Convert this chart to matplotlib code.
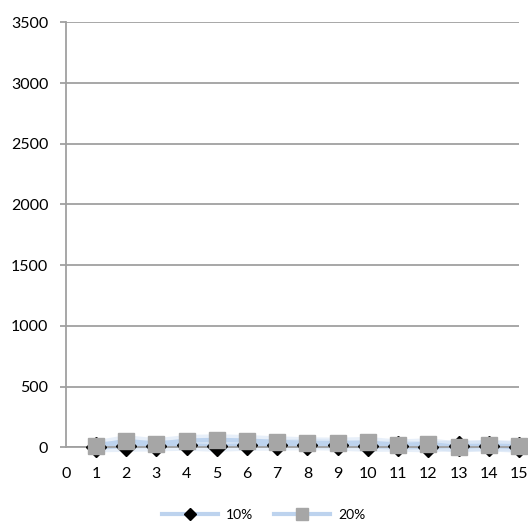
import matplotlib
matplotlib.use("Agg")
import matplotlib.pyplot as plt
from matplotlib.lines import Line2D

# values
x_vals = list(range(1, 16))
pct10 = [4, 8, 12, 17, 8, 17, 18, 22, 17, 8, 9, 4, 12, 12, 0]
pct20 = [12, 54, 29, 56, 62, 56, 45, 37, 34, 40, 19, 29, 2, 15, 9]
series_names = ["10%", "20%"]
y_ticks = [0, 500, 1000, 1500, 2000, 2500, 3000, 3500]
x_ticks = list(range(0, 16))

plt.rcParams['font.family'] = ['Lato', 'DejaVu Sans']

W, H = 528, 523
fig = plt.figure(figsize=(W / 100, H / 100), dpi=100)
ax = fig.add_axes([65.7 / W, 1 - 447.3 / H, (519 - 65.7) / W, (447.3 - 22.3) / H])

line_col = '#BDD3EE'
grid_col = '#A0A0A0'

# soft glow lines under the markers
for vals in (pct10, pct20):
    ax.plot(x_vals, vals, color=line_col, lw=8, alpha=0.35, solid_capstyle='round', zorder=2, clip_on=False)
    ax.plot(x_vals, vals, color=line_col, lw=3, zorder=2, clip_on=False)

ax.plot(x_vals, pct10, linestyle='none', marker='D', ms=10.5, color='black', zorder=3, clip_on=False)
ax.plot(x_vals, pct20, linestyle='none', marker='s', ms=11, color='#A6A6A6', zorder=4, clip_on=False)

ax.set_xlim(0, 15)
ax.set_ylim(0, 3500)
ax.set_yticks(y_ticks)
ax.set_xticks(x_ticks)
ax.yaxis.grid(True, color=grid_col, lw=1.3)
ax.set_axisbelow(True)

for side in ('top', 'right'):
    ax.spines[side].set_visible(False)
for side in ('left', 'bottom'):
    ax.spines[side].set_color(grid_col)
    ax.spines[side].set_linewidth(1.3)

ax.tick_params(axis='y', length=4, width=1.3, color=grid_col, pad=8.5, labelsize=11.5)
ax.tick_params(axis='x', length=0, pad=14, labelsize=11.5)

# legend at the bottom
handles = [
    Line2D([], [], color=line_col, lw=3, marker='D', ms=6, markerfacecolor='black', markeredgecolor='black'),
    Line2D([], [], color=line_col, lw=3, marker='s', ms=8, markerfacecolor='#A6A6A6', markeredgecolor='#A6A6A6'),
]
fig.legend(handles, series_names, loc='center', bbox_to_anchor=(0.5, 1 - 515 / H), ncol=2,
           frameon=False, fontsize=10, handlelength=4, columnspacing=1.5, handletextpad=0.6)

fig.savefig("out.png", dpi=100)
